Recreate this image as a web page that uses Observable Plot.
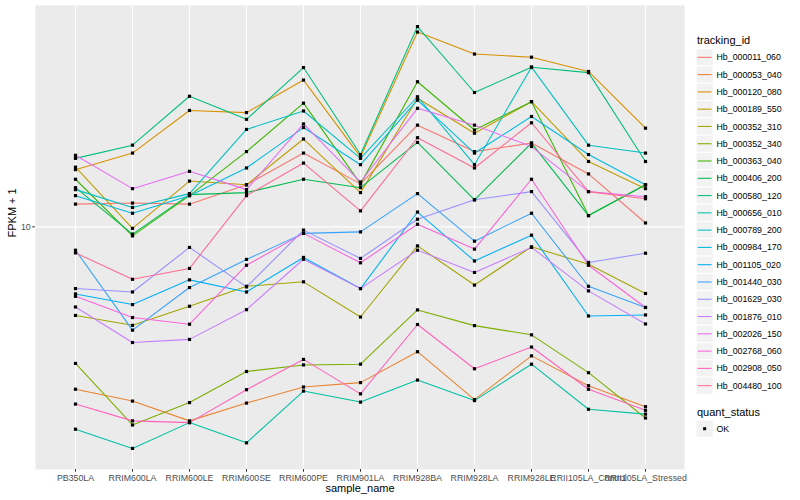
<!DOCTYPE html>
<html><head><meta charset="utf-8">
<script src="https://cdn.jsdelivr.net/npm/d3@7"></script>
<script src="https://cdn.jsdelivr.net/npm/@observablehq/plot@0.6"></script>
<style>
body{margin:0;background:#fff;}
#wrap{position:relative;width:800px;height:500px;font-family:"Liberation Sans",Arial,sans-serif;}
#wrap svg{position:absolute;top:0;}
</style></head><body><div id="wrap"></div>
<script>
const samples = ["PB350LA","RRIM600LA","RRIM600LE","RRIM600SE","RRIM600PE","RRIM901LA","RRIM928BA","RRIM928LA","RRIM928LE","RRII105LA_Control","RRII105LA_Stressed"];
const trackingIds = ["Hb_000011_060","Hb_000053_040","Hb_000120_080","Hb_000189_550","Hb_000352_310","Hb_000352_340","Hb_000363_040","Hb_000406_200","Hb_000580_120","Hb_000656_010","Hb_000789_200","Hb_000984_170","Hb_001105_020","Hb_001440_030","Hb_001629_030","Hb_001876_010","Hb_002026_150","Hb_002768_060","Hb_002908_050","Hb_004480_100"];
const colors = ["#F8766D","#EA8331","#D89000","#C09B00","#A3A500","#7CAE00","#39B600","#00BB4E","#00BF7D","#00C1A3","#00BFC4","#00BAE0","#00B0F6","#35A2FF","#9590FF","#C77CFF","#E76BF3","#FA62DB","#FF62BC","#FF6C91"];
const quantStatus = ["OK"];

// FPKM + 1 per sample (order of samples)
const hb_000011_060 = [11.9, 12.0, 11.9, 13.8, 17.6, 13.9, 21.8, 17.8, 19.0, 15.0, 10.3];
const hb_000053_040 = [2.88, 2.63, 2.26, 2.59, 2.93, 3.03, 3.84, 2.66, 3.72, 2.96, 2.52];
const hb_000120_080 = [15.5, 17.6, 24.4, 24.0, 30.8, 17.1, 44.5, 37.6, 36.7, 32.9, 21.3];
const hb_000189_550 = [15.8, 9.88, 14.2, 13.8, 19.6, 13.0, 26.8, 20.5, 26.1, 16.5, 13.4];
const hb_000352_310 = [5.07, 4.70, 5.44, 6.34, 6.56, 5.01, 8.64, 6.40, 8.58, 7.51, 6.00];
const hb_000352_340 = [3.51, 2.19, 2.60, 3.30, 3.47, 3.49, 5.29, 4.69, 4.37, 3.27, 2.31];
const hb_000363_040 = [14.4, 9.33, 12.7, 17.8, 25.8, 13.9, 30.4, 21.0, 26.1, 10.9, 13.8];
const hb_000406_200 = [13.5, 9.46, 12.8, 13.0, 14.4, 13.5, 19.1, 12.3, 19.0, 10.9, 13.8];
const hb_000580_120 = [16.9, 18.7, 27.2, 22.8, 33.9, 17.4, 46.4, 28.0, 34.0, 32.6, 16.5];
const hb_000656_010 = [2.12, 1.83, 2.23, 1.91, 2.84, 2.61, 3.09, 2.64, 3.49, 2.47, 2.38];
const hb_000789_200 = [13.3, 11.6, 12.9, 21.1, 24.3, 16.9, 27.1, 16.1, 34.0, 18.7, 17.6];
const hb_000984_170 = [12.7, 11.1, 12.7, 15.7, 21.4, 16.1, 26.4, 17.6, 23.3, 17.4, 13.8];
const hb_001105_020 = [5.98, 5.51, 6.66, 6.07, 7.91, 6.23, 11.2, 7.70, 9.38, 5.05, 5.09];
const hb_001440_030 = [8.36, 4.53, 6.28, 7.79, 9.51, 9.62, 12.9, 8.96, 11.1, 6.34, 5.39];
const hb_001629_030 = [6.23, 6.07, 8.54, 6.31, 9.75, 7.85, 10.6, 12.3, 13.1, 7.61, 8.17];
const hb_001876_010 = [5.41, 4.12, 4.22, 5.30, 7.80, 6.23, 8.36, 7.05, 8.54, 6.12, 4.75];
const hb_002026_150 = [17.3, 13.4, 15.3, 13.3, 22.0, 14.1, 24.8, 21.8, 18.5, 13.1, 12.6];
const hb_002768_060 = [5.87, 4.99, 4.74, 7.45, 9.51, 7.59, 10.2, 8.43, 14.4, 7.45, 5.39];
const hb_002908_050 = [2.57, 2.26, 2.23, 2.87, 3.62, 2.78, 4.73, 3.37, 3.98, 2.88, 2.45];
const hb_004480_100 = [8.19, 6.69, 7.27, 12.7, 16.3, 11.3, 19.8, 15.7, 22.2, 13.1, 12.4];

const series = [hb_000011_060, hb_000053_040, hb_000120_080, hb_000189_550, hb_000352_310, hb_000352_340, hb_000363_040, hb_000406_200, hb_000580_120, hb_000656_010, hb_000789_200, hb_000984_170, hb_001105_020, hb_001440_030, hb_001629_030, hb_001876_010, hb_002026_150, hb_002768_060, hb_002908_050, hb_004480_100];
const yTicks = [10];

const data = trackingIds.flatMap((id, i) => series[i].map((v, j) => ({id, sample: samples[j], value: v, status: quantStatus[0]})));
const [mn, mx] = d3.extent(data, d => d.value);
const lmn = Math.log10(mn), lmx = Math.log10(mx), pad = (lmx - lmn) * 0.05;
const yDomain = [10 ** (lmn - pad), 10 ** (lmx + pad)];

const font = '"Liberation Sans",Arial,sans-serif';
const chart = Plot.plot({
  width: 690, height: 500,
  marginLeft: 35, marginRight: 6, marginTop: 5, marginBottom: 31,
  style: {fontFamily: font, background: "transparent", overflow: "visible"},
  x: {type: "point", domain: samples, padding: 0.6},
  y: {type: "log", domain: yDomain},
  color: {domain: trackingIds, range: colors},
  marks: [
    Plot.frame({fill: "#EBEBEB", stroke: null}),
    Plot.gridX({stroke: "white", strokeOpacity: 1, strokeWidth: 1.1}),
    Plot.gridY(yTicks, {stroke: "white", strokeOpacity: 1, strokeWidth: 1.1}),
    Plot.line(data, {x: "sample", y: "value", z: "id", stroke: "id", strokeWidth: 1.07}),
    Plot.dot(data, {x: "sample", y: "value", fill: "black", stroke: null, r: 1.8, symbol: "square"}),
    Plot.axisX({tickSize: 2.75, tickPadding: 2, fontSize: 8.8, stroke: "#333333", fill: "#4D4D4D", label: null}),
    Plot.axisY(yTicks, {tickSize: 2.75, tickPadding: 2, fontSize: 8.8, stroke: "#333333", fill: "#4D4D4D", tickFormat: d => String(d), label: null}),
    Plot.text(["sample_name"], {text: d => d, frameAnchor: "bottom", dy: 22, fontSize: 11, fill: "black"}),
    Plot.text(["FPKM + 1"], {text: d => d, frameAnchor: "left", dx: -23, rotate: -90, fontSize: 11, fill: "black"})
  ]
});
chart.style.left = "0px";
document.getElementById("wrap").appendChild(chart);

// legend (ggplot style)
const leg = d3.select("#wrap").append("svg")
  .attr("width", 110).attr("height", 500)
  .style("left", "690px")
  .style("font-family", font);
const keyH = 17.28, key0 = 48.7;
leg.append("text").attr("x", 7).attr("y", 43.5).attr("font-size", 11).attr("fill", "black").text("tracking_id");
const items = leg.selectAll("g.k").data(trackingIds).join("g").attr("class", "k")
  .attr("transform", (d, i) => `translate(0,${key0 + i * keyH})`);
items.append("rect").attr("x", 6).attr("y", 0).attr("width", keyH).attr("height", keyH)
  .attr("fill", "#F2F2F2").attr("stroke", "white").attr("stroke-width", 1);
items.append("line").attr("x1", 7.7).attr("x2", 21.6).attr("y1", keyH / 2).attr("y2", keyH / 2)
  .attr("stroke", (d, i) => colors[i]).attr("stroke-width", 1.07);
items.append("text").attr("x", 26.5).attr("y", keyH / 2).attr("dy", "0.35em")
  .attr("font-size", 8.8).attr("fill", "black").text(d => d);

leg.append("text").attr("x", 7).attr("y", 415.5).attr("font-size", 11).attr("fill", "black").text("quant_status");
const q = leg.selectAll("g.q").data(quantStatus).join("g").attr("class", "q")
  .attr("transform", (d, i) => `translate(0,${420.1 + i * keyH})`);
q.append("rect").attr("x", 6).attr("y", 0).attr("width", keyH).attr("height", keyH)
  .attr("fill", "#F2F2F2").attr("stroke", "white").attr("stroke-width", 1);
q.append("rect").attr("x", 6 + keyH / 2 - 1.5).attr("y", keyH / 2 - 1.5).attr("width", 3).attr("height", 3).attr("fill", "black");
q.append("text").attr("x", 26.5).attr("y", keyH / 2).attr("dy", "0.35em")
  .attr("font-size", 8.8).attr("fill", "black").text(d => d);
</script></body></html>
